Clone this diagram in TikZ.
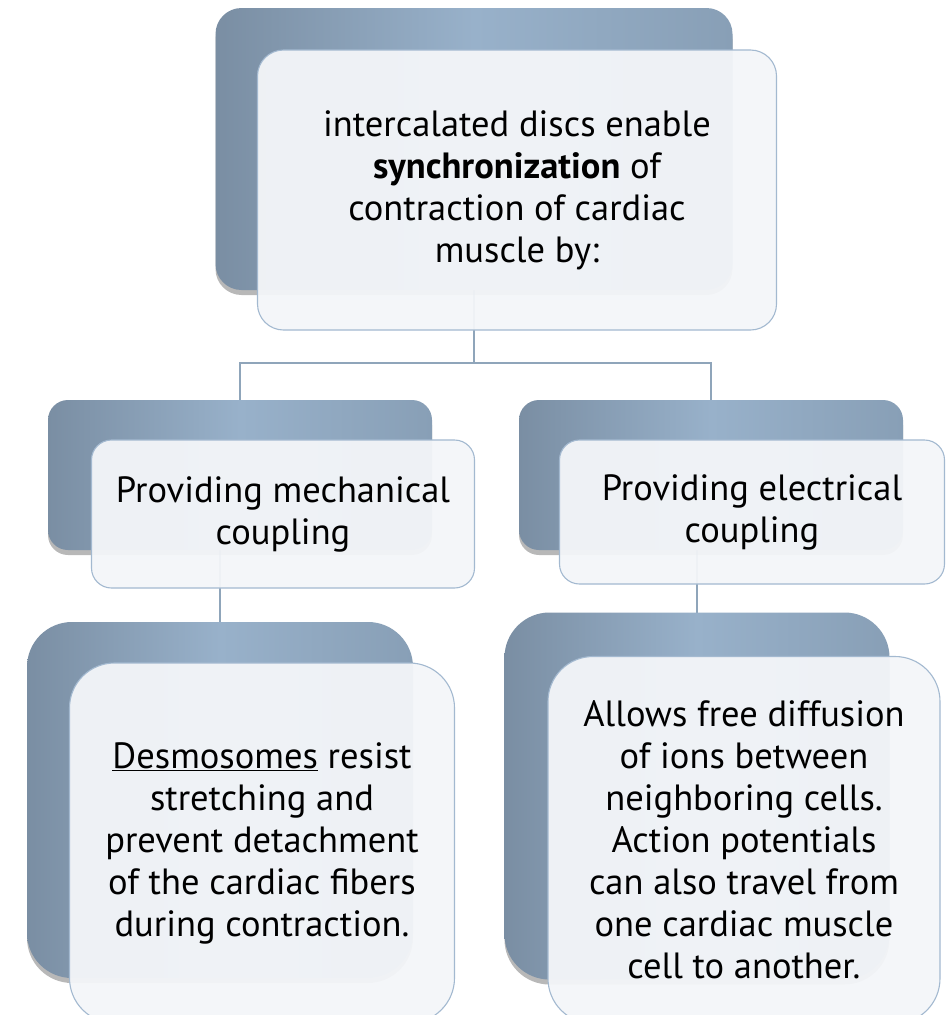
\documentclass[tikz,border=0pt]{standalone}
\usepackage{fontspec}
\setmainfont{PT Sans}
\usetikzlibrary{shadows}
\definecolor{bkL}{HTML}{7A8EA3}
\definecolor{bkM}{HTML}{98B1CA}
\definecolor{bkR}{HTML}{889FB6}
\definecolor{frFill}{HTML}{F4F6F9}
\definecolor{frLine}{HTML}{A3B9D0}
\definecolor{conn}{HTML}{8FA5BA}
\tikzset{
  backbox/.style={rounded corners=#1, left color=bkL, right color=bkR, middle color=bkM,
    drop shadow={shadow xshift=0pt, shadow yshift=-5pt, fill=black, opacity=0.28}},
  frontbox/.style={rounded corners=#1, draw=frLine, line width=1.1pt, fill=frFill,
    fill opacity=0.95, text opacity=1, align=center, text=black},
  connline/.style={draw=conn, line width=1.2pt},
  txt/.style={font=\fontsize{36.5}{42}\selectfont}
}
\begin{document}
\begin{tikzpicture}[x=1pt,y=-1pt]
\useasboundingbox (0,0) rectangle (952,1015);
\clip (0,0) rectangle (952,1015);
\fill[white] (0,0) rectangle (952,1015);

% hidden anchor points for connectors
\coordinate (hub) at (474,363);
\coordinate (jogL) at (240,530);
\coordinate (jogR) at (711,530);

% connectors (drawn first, behind the boxes)
\node[minimum width=0, inner sep=0] (cTop) at (474,149) {};
\node[minimum width=0, inner sep=0] (cML) at (240,475) {};
\node[minimum width=0, inner sep=0] (cMR) at (711,475) {};
\node[minimum width=0, inner sep=0] (cBL) at (220,800) {};
\node[minimum width=0, inner sep=0] (cBR) at (697,796) {};
\draw[connline] (cTop) -- (hub) -| (cML);
\draw[connline] (hub) -| (cMR);
\draw[connline] (cML) -- (jogL) -| (cBL);
\draw[connline] (cMR) -- (jogR) -| (cBR);

% back boxes
\node[backbox=26pt, minimum width=517pt, minimum height=282pt] (topB) at (474,149) {};
\node[backbox=20pt, minimum width=384pt, minimum height=150pt] (midLB) at (240,475) {};
\node[backbox=20pt, minimum width=384pt, minimum height=150pt] (midRB) at (711,475) {};
\node[backbox=45pt, minimum width=386pt, minimum height=356pt] (botLB) at (220,800) {};
\node[backbox=45pt, minimum width=385pt, minimum height=367pt] (botRB) at (697,796) {};

% front boxes
\node[frontbox=26pt, minimum width=519pt, minimum height=280pt, txt] (topF) at (517,190)
  {intercalated discs enable\\ \textbf{synchronization} of\\ contraction of cardiac\\ muscle by:};
\node[frontbox=20pt, minimum width=383pt, minimum height=148pt, txt] (midLF) at (283,514)
  {Providing mechanical\\ coupling};
\node[frontbox=20pt, minimum width=385pt, minimum height=144pt, txt] (midRF) at (752,512)
  {Providing electrical\\ coupling};
\node[frontbox=45pt, minimum width=385pt, minimum height=360pt, txt] (botLF) at (262,843)
  {\underline{Desmosomes} resist\\ stretching and\\ prevent detachment\\ of the cardiac fibers\\ during contraction.};
\node[frontbox=45pt, minimum width=392pt, minimum height=367pt, txt] (botRF) at (744,840)
  {Allows free diffusion\\ of ions between\\ neighboring cells.\\ Action potentials\\ can also travel from\\ one cardiac muscle\\ cell to another.};
\end{tikzpicture}
\end{document}
